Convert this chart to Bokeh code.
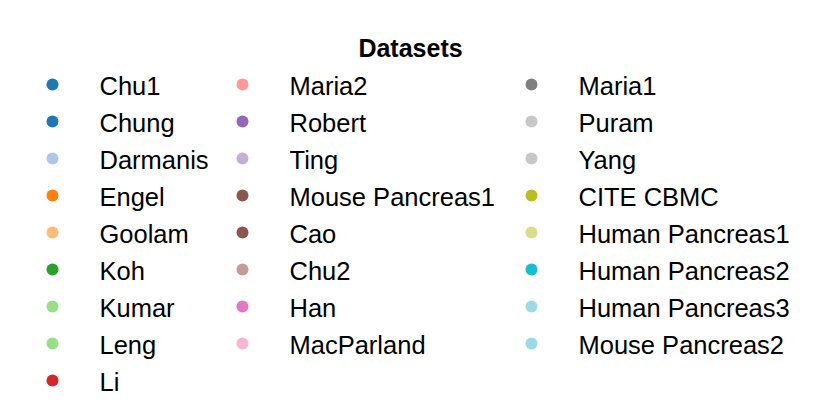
from bokeh.plotting import figure
from bokeh.models import Range1d, ColumnDataSource
from bokeh.core.properties import value
from bokeh.embed import file_html
from bokeh.resources import INLINE

title = "Datasets"
datasets = ["Chu1", "Chung", "Darmanis", "Engel", "Goolam", "Koh", "Kumar", "Leng", "Li",
            "Maria2", "Robert", "Ting", "Mouse Pancreas1", "Cao", "Chu2", "Han", "MacParland",
            "Maria1", "Puram", "Yang", "CITE CBMC", "Human Pancreas1", "Human Pancreas2",
            "Human Pancreas3", "Mouse Pancreas2"]
colors = ["#1f77b4", "#1f77b4", "#aec7e8", "#ff7f0e", "#ffbb78", "#2ca02c", "#98df8a", "#98df8a", "#d62728",
          "#ff9896", "#9467bd", "#c5b0d5", "#8c564b", "#8c564b", "#c49c94", "#e377c2", "#f7b6d2",
          "#7f7f7f", "#c7c7c7", "#c7c7c7", "#bcbd22", "#dbdb8d", "#17becf",
          "#9edae5", "#9edae5"]
column_of = [0] * 9 + [1] * 8 + [2] * 8

# layout (pixels on the page)
W, H = 814, 402
col_dot_x = [52, 242, 531]
text_gap = 47
row_y0 = 84
row_dy = 37

rows = []
counts = [0, 0, 0]
for c in column_of:
    rows.append(counts[c])
    counts[c] += 1

xs = [col_dot_x[c] for c in column_of]
ys = [row_y0 + r * row_dy for r in rows]
src = ColumnDataSource(dict(x=xs, y=ys, tx=[x + text_gap for x in xs],
                            ty=[y + 1 for y in ys], name=datasets, color=colors))

p = figure(width=W, height=H, output_backend="svg", toolbar_location=None,
           x_range=Range1d(0, W), y_range=Range1d(H, 0),
           min_border=0, outline_line_color=None)
p.axis.visible = False
p.grid.visible = False
p.background_fill_color = "white"
p.border_fill_color = "white"

p.scatter("x", "y", source=src, size=12, color="color", line_color=None)
p.text("tx", "ty", text="name", source=src, text_font=value("Liberation Sans"),
       text_font_size="25.5px", text_baseline="middle", text_align="left", text_color="black")
p.text([410], [47], text=[title], text_font=value("Liberation Sans"), text_font_style="bold",
       text_font_size="25px", text_baseline="middle", text_align="center", text_color="black")

open("out.html", "w").write(file_html(p, INLINE))
